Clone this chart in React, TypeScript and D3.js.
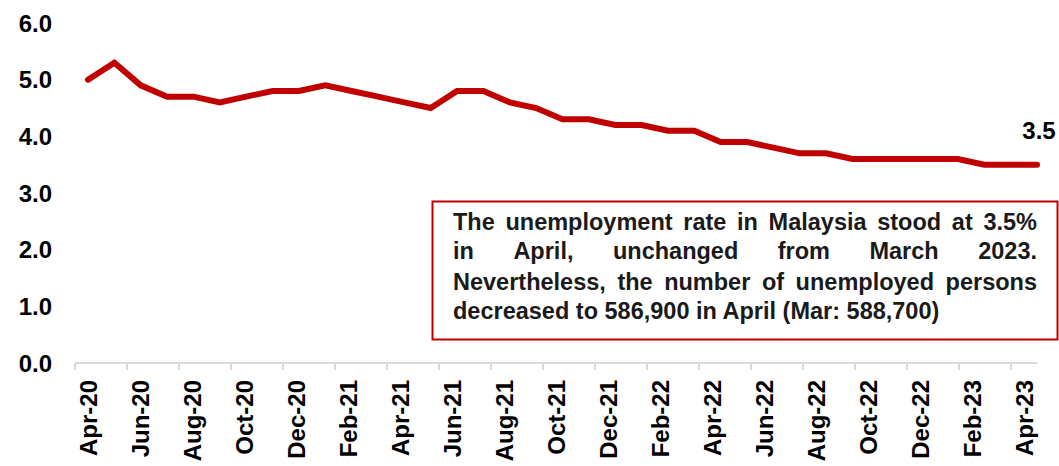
import React, { useEffect, useRef } from "react";
import * as d3 from "d3";

const months = [
  "Apr-20", "May-20", "Jun-20", "Jul-20", "Aug-20", "Sep-20", "Oct-20", "Nov-20", "Dec-20",
  "Jan-21", "Feb-21", "Mar-21", "Apr-21", "May-21", "Jun-21", "Jul-21", "Aug-21", "Sep-21",
  "Oct-21", "Nov-21", "Dec-21", "Jan-22", "Feb-22", "Mar-22", "Apr-22", "May-22", "Jun-22",
  "Jul-22", "Aug-22", "Sep-22", "Oct-22", "Nov-22", "Dec-22", "Jan-23", "Feb-23", "Mar-23", "Apr-23",
];
const rates = [
  5.0, 5.3, 4.9, 4.7, 4.7, 4.6, 4.7, 4.8, 4.8,
  4.9, 4.8, 4.7, 4.6, 4.5, 4.8, 4.8, 4.6, 4.5, 4.3, 4.3, 4.2,
  4.2, 4.1, 4.1, 3.9, 3.9, 3.8, 3.7, 3.7, 3.6, 3.6, 3.6, 3.6,
  3.6, 3.5, 3.5, 3.5,
];
const yTicks = [0, 1, 2, 3, 4, 5, 6];
const noteLines = [
  "The unemployment rate in Malaysia stood at 3.5%",
  "in April, unchanged from March 2023.",
  "Nevertheless, the number of unemployed persons",
  "decreased to 586,900 in April (Mar: 588,700)",
];
const lastLabel = "3.5";

const W = 1059;
const H = 466;
const FONT = "'Liberation Sans', Arial, Helvetica, sans-serif";
const RED = "#C00000";

export default function App() {
  const ref = useRef<SVGSVGElement>(null);

  useEffect(() => {
    const svg = d3.select(ref.current);
    svg.selectAll("*").remove();

    const y = d3.scaleLinear().domain([0, 6]).range([363, 23]);
    const xBand = d3.scaleBand<string>().domain(months).range([75, 1037]);
    const xLine = d3.scalePoint<string>().domain(months).range([88, 1037]);
    const axisY = y(0);

    // y labels
    svg.append("g")
      .selectAll("text")
      .data(yTicks)
      .join("text")
      .attr("x", 52)
      .attr("y", (d) => y(d))
      .attr("dy", "0.36em")
      .attr("text-anchor", "end")
      .attr("font-family", FONT)
      .attr("font-weight", "bold")
      .attr("font-size", 24)
      .attr("fill", "#000")
      .text((d) => d.toFixed(1));

    // x axis line
    svg.append("line")
      .attr("x1", 75).attr("x2", 1037)
      .attr("y1", axisY).attr("y2", axisY)
      .attr("stroke", "#d9d9d9").attr("stroke-width", 2);

    const shown = months.filter((_, i) => i % 2 === 0);
    svg.append("g")
      .selectAll("line")
      .data(shown)
      .join("line")
      .attr("x1", (d) => xBand(d)!)
      .attr("x2", (d) => xBand(d)!)
      .attr("y1", axisY)
      .attr("y2", axisY + 7)
      .attr("stroke", "#d9d9d9").attr("stroke-width", 2);

    svg.append("g")
      .selectAll("text")
      .data(shown)
      .join("text")
      .attr("transform", (d) => `translate(${xBand(d)! + xBand.bandwidth() / 2},${axisY + 17}) rotate(-90)`)
      .attr("dy", "0.36em")
      .attr("text-anchor", "end")
      .attr("font-family", FONT)
      .attr("font-weight", "bold")
      .attr("font-size", 24)
      .attr("fill", "#000")
      .text((d) => d);

    // line
    const line = d3.line<number>()
      .x((_, i) => xLine(months[i])!)
      .y((d) => y(d));
    svg.append("path")
      .datum(rates)
      .attr("d", line)
      .attr("fill", "none")
      .attr("stroke", RED)
      .attr("stroke-width", 6)
      .attr("stroke-linejoin", "miter")
      .attr("stroke-linecap", "round");

    // last label
    const lastM = months[months.length - 1];
    svg.append("text")
      .attr("x", xLine(lastM)! + 2)
      .attr("y", y(rates[rates.length - 1]) - 26)
      .attr("text-anchor", "middle")
      .attr("font-family", FONT)
      .attr("font-weight", "bold")
      .attr("font-size", 24)
      .attr("fill", "#000")
      .text(lastLabel);

    // note box
    svg.append("rect")
      .attr("x", 432.5).attr("y", 201.5)
      .attr("width", 625).attr("height", 138)
      .attr("fill", "#fff")
      .attr("stroke", RED)
      .attr("stroke-width", 2);

    const sx = 1.0;
    const left = 453;
    const target = 1037 - left;
    const baselines = [230, 259, 290, 319];
    noteLines.forEach((ln, li) => {
      const g = svg.append("g").attr("transform", `translate(${left},${baselines[li]}) scale(${sx},1)`);
      const style = (t: d3.Selection<SVGTextElement, unknown, null, undefined>) =>
        t.attr("font-family", FONT).attr("font-weight", "bold").attr("font-size", 23.5).attr("fill", "#1a1a1a");
      if (li === noteLines.length - 1) {
        g.append("text").attr("x", 0).attr("y", 0).call(style).text(ln);
        return;
      }
      const words = ln.split(" ");
      const nodes = words.map((w) => g.append("text").attr("y", 0).call(style).text(w));
      const widths = nodes.map((n) => (n.node() as SVGTextElement).getComputedTextLength());
      const total = widths.reduce((a, b) => a + b, 0);
      const gap = (target / sx - total) / (words.length - 1);
      let cx = 0;
      nodes.forEach((n, i) => {
        n.attr("x", cx);
        cx += widths[i] + gap;
      });
    });
  }, []);

  return (
    <svg
      ref={ref}
      width={W}
      height={H}
      style={{ position: "absolute", left: 0, top: 0, background: "#fff" }}
    />
  );
}
